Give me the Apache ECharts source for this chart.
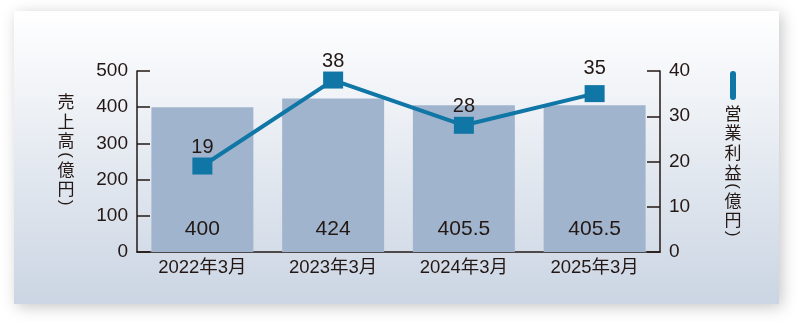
<!DOCTYPE html>
<html><head><meta charset="utf-8">
<script src="https://cdn.jsdelivr.net/npm/echarts@6/dist/echarts.min.js"></script>
<style>html,body{margin:0;padding:0;background:#fff}#c{width:800px;height:322px}</style>
</head><body><div id="c"></div>
<script>
var categories = ['2022年3月', '2023年3月', '2024年3月', '2025年3月'];
var salesValues = [400, 424, 405.5, 405.5];
var profitValues = [19, 38, 28, 35];
var leftTicks = [0, 100, 200, 300, 400, 500];
var rightTicks = [0, 10, 20, 30, 40];
var leftName = ['売', '上', '高', '(', '億', '円', ')'];
var rightName = ['営', '業', '利', '益', '(', '億', '円', ')'];

var FONT = '"Liberation Sans", "Noto Sans CJK JP", sans-serif';
var CJK = '"Noto Sans CJK JP", sans-serif';
var TXT = '#231815';

// vertical (tategaki) axis title: upright CJK glyphs, parentheses turned
function vertTitle(chars, cx, top) {
  var els = [], y = top;
  chars.forEach(function (ch) {
    var isP = (ch === '(' || ch === ')');
    var h = isP ? 8.5 : 19.6;
    els.push({
      type: 'text', x: cx, y: y + h / 2, z: 10,
      rotation: isP ? -Math.PI / 2 : 0,
      style: { text: ch, fontSize: 17, fontFamily: isP ? '"Liberation Sans", sans-serif' : CJK,
        fill: TXT, align: 'center', verticalAlign: 'middle' }
    });
    y += h;
  });
  return els;
}

var graphics = [
  { type: 'rect', z: -10, shape: { x: 14, y: 11, width: 765, height: 293 },
    style: { fill: new echarts.graphic.LinearGradient(0, 0, 0, 1, [
      { offset: 0, color: '#ffffff' }, { offset: 1, color: '#cbd5e3' }]),
      shadowBlur: 14, shadowColor: 'rgba(0,0,0,0.22)', shadowOffsetX: 3, shadowOffsetY: 3 } },
  { type: 'rect', z: 10, shape: { x: 730, y: 71, width: 6, height: 29, r: 3 },
    style: { fill: '#0f76a6' } }
].concat(vertTitle(leftName, 66, 92), vertTitle(rightName, 733, 103.5));

var lineData = profitValues.map(function (v, i) {
  return i === profitValues.length - 1 ? { value: v, label: { distance: 7 } } : v;
});

var chart = echarts.init(document.getElementById('c'));
chart.setOption({
  animation: false,
  graphic: graphics,
  grid: { left: 137, right: 140, top: 71, bottom: 70 },
  xAxis: {
    type: 'category', data: categories,
    axisLine: { lineStyle: { color: TXT, width: 1.5 } },
    axisTick: { show: false },
    axisLabel: { color: TXT, fontSize: 18.5, fontFamily: FONT, margin: 7 }
  },
  yAxis: [
    { type: 'value', min: leftTicks[0], max: leftTicks[leftTicks.length - 1], interval: 100,
      axisLine: { show: true, lineStyle: { color: TXT, width: 1.5 } },
      axisTick: { show: true, inside: true, length: 13, lineStyle: { color: TXT, width: 1.5 } },
      splitLine: { show: false },
      axisLabel: { color: TXT, fontSize: 19, fontFamily: FONT, margin: 9 } },
    { type: 'value', min: rightTicks[0], max: rightTicks[rightTicks.length - 1], interval: 10,
      position: 'right',
      axisLine: { show: true, lineStyle: { color: TXT, width: 1.5 } },
      axisTick: { show: true, inside: true, length: 13, lineStyle: { color: TXT, width: 1.5 } },
      splitLine: { show: false },
      axisLabel: { color: TXT, fontSize: 19, fontFamily: FONT, margin: 9 } }
  ],
  series: [
    { type: 'bar', data: salesValues, barWidth: 102, yAxisIndex: 0,
      itemStyle: { color: '#a0b5cd' },
      label: { show: true, position: 'insideBottom', distance: 12, color: TXT,
        fontSize: 21, fontFamily: FONT } },
    { type: 'line', data: lineData, yAxisIndex: 1, z: 5,
      symbol: 'rect', symbolSize: [20, 17],
      lineStyle: { color: '#0f76a6', width: 4 },
      itemStyle: { color: '#0f76a6' },
      label: { show: true, position: 'top', distance: 0, color: TXT,
        fontSize: 20, fontFamily: FONT } }
  ]
});
</script></body></html>
